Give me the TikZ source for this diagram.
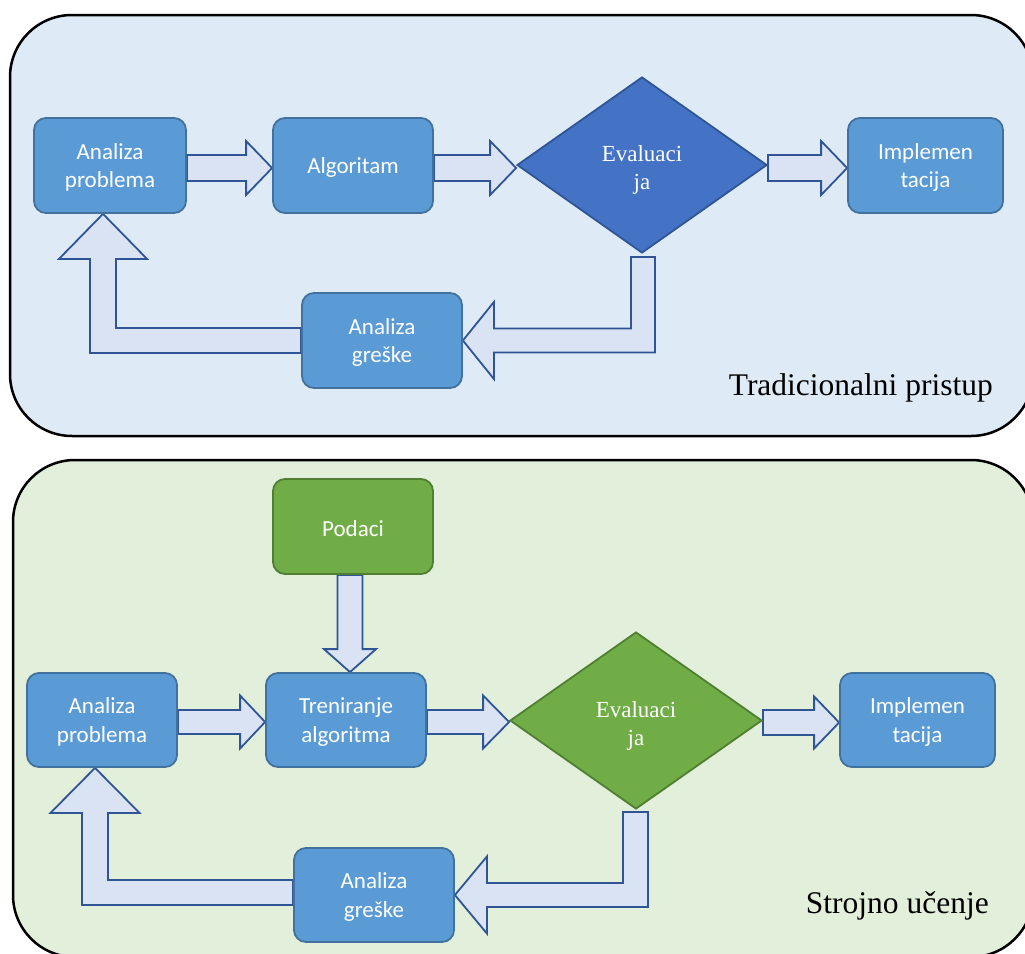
\documentclass[tikz,border=0pt]{standalone}
\usepackage{fontspec}
\setmainfont{Liberation Serif}
\newfontfamily\boxfont{Carlito}
\usetikzlibrary{shapes.geometric,calc}
\definecolor{panelblue}{HTML}{DEEAF6}
\definecolor{panelgreen}{HTML}{E2EFDA}
\definecolor{boxblue}{HTML}{5B9BD5}
\definecolor{boxblueline}{HTML}{41719C}
\definecolor{diablue}{HTML}{4472C4}
\definecolor{diablueline}{HTML}{2F5597}
\definecolor{boxgreen}{HTML}{70AD47}
\definecolor{boxgreenline}{HTML}{507E32}
\definecolor{arrowfill}{HTML}{DAE3F3}
\definecolor{arrowline}{HTML}{2F5597}
\pgfdeclarelayer{panels}
\pgfdeclarelayer{arrows}
\pgfsetlayers{panels,arrows,main}
\newcommand\bxs{\rule{0pt}{20pt}}
\newcommand\dms{\rule{0pt}{26pt}}
\tikzset{
  panel/.style={draw=black, line width=2.5pt, rounded corners=62pt},
  proc/.style={draw=boxblueline, fill=boxblue, line width=1.8pt, rounded corners=12pt,
    text=white, font=\boxfont\fontsize{23}{28.5}\selectfont, align=center,
    inner sep=0pt, minimum width=160pt, minimum height=95pt},
  dataproc/.style={proc, draw=boxgreenline, fill=boxgreen},
  decision/.style={diamond, draw=diablueline, fill=diablue, line width=1.8pt, text=white,
    font=\fontsize{23}{28}\selectfont, align=center, inner sep=0pt,
    minimum width=250pt, minimum height=176pt},
  greendecision/.style={decision, draw=boxgreenline, fill=boxgreen},
  blockarrow/.style={draw=arrowline, fill=arrowfill, line width=1.8pt, line join=miter},
  panellabel/.style={font=\fontsize{31.5}{36}\selectfont, text=black, inner sep=0pt, anchor=base east}
}
% straight rightward block arrow: #1 start, #2 tip, #3 shaft half width, #4 head half width, #5 head length
\newcommand\blkR[5]{%
  \path (#1) coordinate (bs) (#2) coordinate (bt);
  \draw[blockarrow] ($(bs)+(0,-#3)$) -- ($(bt|-bs)+(-#5,-#3)$) -- ($(bt|-bs)+(-#5,-#4)$)
    -- (bt|-bs) -- ($(bt|-bs)+(-#5,#4)$) -- ($(bt|-bs)+(-#5,#3)$) -- ($(bs)+(0,#3)$) -- cycle;}
\begin{document}
\begin{tikzpicture}[x=1pt,y=-1pt]
\useasboundingbox (0,0) rectangle (1025,953);

% ---------- top panel nodes ----------
\node[proc, minimum width=152pt] (ap1) at (110,165.5) {\bxs Analiza\\problema};
\node[proc] (alg1) at (353,165.5) {\bxs Algoritam};
\node[decision] (ev1) at (642,165) {\dms Evaluaci\\ja};
\node[proc, minimum width=155pt] (imp1) at (925.5,165.5) {\bxs Implemen\\tacija};
\node[proc] (ag1) at (382,340.5) {\bxs Analiza\\greške};
\node[panellabel] (lab1) at (993,395) {Tradicionalni pristup};

% ---------- bottom panel nodes ----------
\node[dataproc] (pod) at (353,526.5) {\bxs Podaci};
\node[proc, minimum width=150pt, minimum height=94pt] (ap2) at (102,720) {\bxs Analiza\\problema};
\node[proc, minimum height=94pt] (tr2) at (346,720) {\bxs Treniranje\\algoritma};
\node[greendecision, minimum width=252pt, minimum height=177pt] (ev2) at (636,720.5) {\dms Evaluaci\\ja};
\node[proc, minimum width=155pt, minimum height=94pt] (imp2) at (917.5,720) {\bxs Implemen\\tacija};
\node[proc, minimum height=94pt] (ag2) at (374,895) {\bxs Analiza\\greške};
\node[panellabel] (lab2) at (989,913) {Strojno učenje};

% ---------- panels ----------
\begin{pgfonlayer}{panels}
  \clip (0,0) rectangle (1025,953);
  \draw[panel, fill=panelblue] (10,15) rectangle (1033,436);
  \draw[panel, fill=panelgreen] (13,460) rectangle (1033,957);
\end{pgfonlayer}

% ---------- arrows ----------
\begin{pgfonlayer}{arrows}
  % top
  \blkR{$(ap1.east)+(0,2.5)$}{alg1.west}{13}{27}{26}
  \blkR{$(alg1.east)+(0,2.5)$}{ev1.west}{13}{27}{26}
  \blkR{$(ev1.east)+(0,3)$}{imp1.west}{13}{27}{26}
  \path ($(ev1.south)+(1,3)$) coordinate (ds1) (ag1.east) coordinate (ge1);
  \draw[blockarrow] ($(ds1)+(-12,0)$) -- ($(ds1)+(12,0)$) -- ($(ds1|-ge1)+(12,12)$)
    -- ($(ge1)+(31,12)$) -- ($(ge1)+(31,38.5)$) -- (ge1) -- ($(ge1)+(31,-38.5)$)
    -- ($(ge1)+(31,-12)$) -- ($(ds1|-ge1)+(-12,-12)$) -- cycle;
  \path (ag1.west) coordinate (gw1) ($(ap1.south)+(-7,0)$) coordinate (as1);
  \draw[blockarrow] ($(gw1)+(0,-12.5)$) -- ($(as1|-gw1)+(13,-12.5)$) -- ($(as1)+(13,45)$)
    -- ($(as1)+(44,45)$) -- (as1) -- ($(as1)+(-44,45)$) -- ($(as1)+(-13,45)$)
    -- ($(as1|-gw1)+(-13,12.5)$) -- ($(gw1)+(0,12.5)$) -- cycle;
  % bottom
  \path ($(pod.south)+(-3,0)$) coordinate (ps) (tr2.north) coordinate (pt);
  \draw[blockarrow] ($(ps)+(-12.5,0)$) -- ($(ps|-pt)+(-12.5,-23)$) -- ($(ps|-pt)+(-26,-23)$)
    -- (ps|-pt) -- ($(ps|-pt)+(26,-23)$) -- ($(ps|-pt)+(12.5,-23)$) -- ($(ps)+(12.5,0)$) -- cycle;
  \blkR{$(ap2.east)+(0,2)$}{tr2.west}{12}{26.5}{25}
  \blkR{$(tr2.east)+(0,2)$}{ev2.west}{12}{26.5}{26}
  \blkR{$(ev2.east)+(0,2)$}{imp2.west}{12.5}{26}{25}
  \path ($(ev2.south)+(-0.5,2)$) coordinate (ds2) (ag2.east) coordinate (ge2);
  \draw[blockarrow] ($(ds2)+(-12.5,0)$) -- ($(ds2)+(12.5,0)$) -- ($(ds2|-ge2)+(12.5,12)$)
    -- ($(ge2)+(32,12)$) -- ($(ge2)+(32,38.5)$) -- (ge2) -- ($(ge2)+(32,-38.5)$)
    -- ($(ge2)+(32,-12)$) -- ($(ds2|-ge2)+(-12.5,-12)$) -- cycle;
  \path ($(ag2.west)+(0,-2.5)$) coordinate (gw2) ($(ap2.south)+(-7,0)$) coordinate (as2);
  \draw[blockarrow] ($(gw2)+(0,-12.5)$) -- ($(as2|-gw2)+(13,-12.5)$) -- ($(as2)+(13,45)$)
    -- ($(as2)+(44.5,45)$) -- (as2) -- ($(as2)+(-44.5,45)$) -- ($(as2)+(-13,45)$)
    -- ($(as2|-gw2)+(-13,12.5)$) -- ($(gw2)+(0,12.5)$) -- cycle;
\end{pgfonlayer}
\end{tikzpicture}
\end{document}
